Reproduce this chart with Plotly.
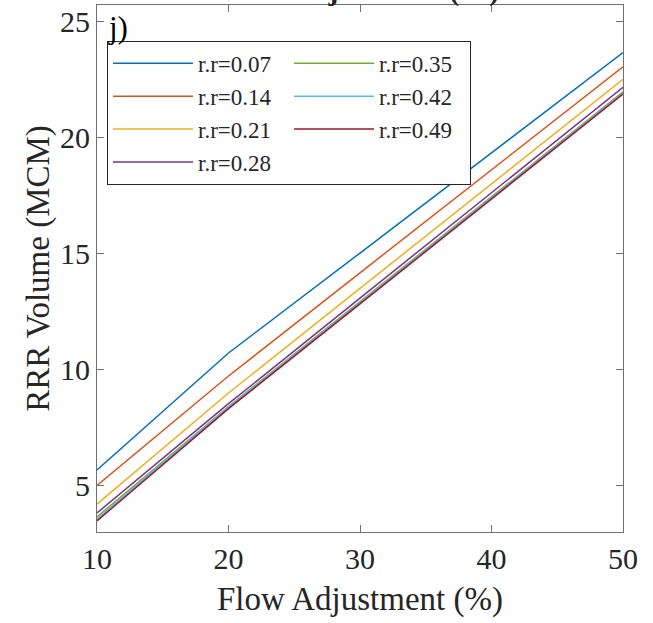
import plotly.graph_objects as go

flow_adjustment = [10, 20, 30, 40, 50]
series_names = ["r.r=0.07", "r.r=0.14", "r.r=0.21", "r.r=0.28", "r.r=0.35", "r.r=0.42", "r.r=0.49"]
rrr_volume = [
    [5.69, 10.72, 15.02, 19.33, 23.64],
    [5.02, 9.73, 14.17, 18.60, 23.03],
    [4.22, 9.00, 13.50, 18.00, 22.49],
    [3.84, 8.54, 13.08, 17.60, 22.15],
    [3.67, 8.42, 12.93, 17.43, 21.95],
    [3.58, 8.38, 12.88, 17.38, 21.90],
    [3.50, 8.33, 12.83, 17.33, 21.86],
]
colors = ["#0072BD", "#D95319", "#EDB120", "#7E2F8E", "#77AC30", "#4DBEEE", "#A2142F"]
# legend arranged column-major like MATLAB (4 rows x 2 columns)
legend_ranks = [1, 3, 5, 7, 2, 4, 6]

x_ticks = [10, 20, 30, 40, 50]
y_ticks = [5, 10, 15, 20, 25]

FONT = "Liberation Serif, Times New Roman, serif"
TXT = "#262626"

fig = go.Figure()
for name, vals, col, rk in zip(series_names, rrr_volume, colors, legend_ranks):
    fig.add_trace(go.Scatter(x=flow_adjustment, y=vals, mode="lines", name=name,
                             line=dict(color=col, width=1.5), legendrank=rk))

axis_common = dict(showline=True, linecolor="#707070", linewidth=1, mirror="ticks",
                   ticks="inside", ticklen=7, tickcolor="#707070", tickwidth=1,
                   showgrid=False, zeroline=False,
                   tickfont=dict(family=FONT, size=30, color=TXT))

fig.update_layout(
    width=653, height=623,
    margin=dict(l=97, r=30, t=5, b=91),
    paper_bgcolor="white", plot_bgcolor="white",
    font=dict(family=FONT, color=TXT),
    xaxis=dict(range=[10, 50], tickvals=x_ticks, **axis_common,
               title=dict(text="Flow Adjustment (%)", font=dict(family=FONT, size=33, color=TXT), standoff=12)),
    yaxis=dict(range=[3.02, 25.69], tickvals=y_ticks, **axis_common,
               title=dict(text="RRR Volume (MCM)", font=dict(family=FONT, size=33, color=TXT), standoff=0)),
    legend=dict(x=0.019, y=0.932, xanchor="left", yanchor="top", orientation="h",
                bgcolor="white", bordercolor=TXT, borderwidth=1,
                font=dict(family=FONT, size=23, color=TXT),
                itemwidth=80, entrywidth=86, entrywidthmode="pixels",
                tracegroupgap=0),
    showlegend=True,
)

fig.add_annotation(text="<b>Flow Adjustment (%)</b>", xref="paper", yref="paper",
                   x=0.5, y=1 - 4 / 527, xanchor="center", yanchor="bottom",
                   showarrow=False, font=dict(family=FONT, size=30, color=TXT))
fig.add_annotation(text="j)", xref="paper", yref="paper", x=0.017, y=1 - 3 / 527,
                   xanchor="left", yanchor="top", showarrow=False,
                   font=dict(family=FONT, size=31, color="black"))

fig.write_html("out.html")
